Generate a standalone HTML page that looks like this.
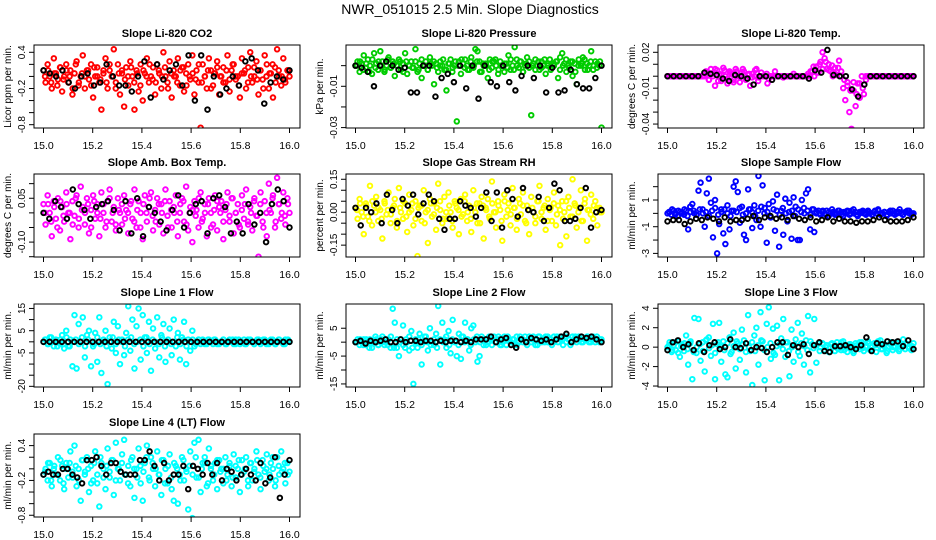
<!DOCTYPE html>
<html><head><meta charset="utf-8"><title>NWR_051015 2.5 Min. Slope Diagnostics</title>
<style>
html,body{margin:0;padding:0;background:#fff;}
svg{display:block;font-family:"Liberation Sans",Arial,sans-serif;}
</style></head>
<body>
<svg id="chart" width="936" height="540" viewBox="0 0 936 540" xmlns="http://www.w3.org/2000/svg">
<rect width="936" height="540" fill="#fff"/>
<text x="470" y="14" text-anchor="middle" font-size="14">NWR_051015  2.5 Min. Slope Diagnostics</text>
</svg>
<script>
// ---- data (x is evenly spaced from 15.0 to 16.0) ----
const xTicks = [15.0, 15.2, 15.4, 15.6, 15.8, 16.0];
const xTickLabels = ["15.0", "15.2", "15.4", "15.6", "15.8", "16.0"];

const co2Values = [0.1,-0.1,0.2,0.0,-0.2,0.3,0.05,-0.05,0.15,-0.25,0.0,0.2,-0.1,0.1,-0.3,0.05,0.25,-0.15,0.0,0.35,-0.2,0.1,-0.05,0.2,-0.35,0.0,0.15,-0.1,-0.55,0.05,0.3,-0.2,0.1,0.0,0.45,-0.1,0.2,-0.3,0.05,-0.5,0.15,-0.15,0.25,0.0,-0.55,0.1,-0.25,0.2,-0.4,0.05,0.3,-0.1,0.0,0.15,-0.3,0.2,0.05,-0.2,0.4,0.0,-0.1,0.25,-0.35,0.1,0.0,0.3,-0.15,0.15,-0.25,0.05,0.2,-0.05,0.35,-0.3,0.1,-0.1,-0.85,0.2,0.0,-0.2,0.3,0.1,-0.15,0.05,0.25,-0.3,0.0,0.15,-0.1,0.35,-0.25,0.1,0.2,-0.05,0.0,-0.35,0.3,0.05,-0.2,0.15,0.4,-0.1,0.0,0.25,-0.3,0.1,-0.05,0.35,0.2,-0.2,0.05,-0.35,0.15,0.45,0.0,-0.15,0.3,-0.1,0.1,0.0];
const co2Core = [0,0.1,-0.1,0.05,-0.15,0.15,-0.05,0.1,0,-0.2,0.2,-0.1,0.05,0,0.1,-0.15,0.15,0,-0.05,0.1,-0.1,0.2,0,-0.2,0.05,0.1,-0.05,0,0.15,-0.1,0.05,-0.15,0.1,0,0.2,-0.05,-0.1,0.1,0,0.15,-0.2,0.05,0,-0.1,0.1,0.15,-0.15,0,0.05,-0.05,0.2,-0.1,0,0.1,-0.2,0.05,0.15,0,-0.1,0.1,-0.05,0.2,0,-0.15,0.05,0.1,-0.1,0,0.15,-0.05,0.1,-0.2,0,0.05,0.2,-0.1,0.1,0,-0.05,0.1];
const co2Black = [0.1,0.05,0.0,0.1,-0.1,-0.2,0.0,0.05,-0.15,-0.1,0.2,0.0,-0.15,-0.15,-0.25,0.0,0.25,-0.35,0.2,-0.05,0.1,0.2,-0.15,0.35,-0.4,0.35,-0.55,0.0,-0.3,-0.2,0.0,-0.15,0.25,0.3,0.1,-0.45,-0.1,0.0,-0.05,0.1];

const pressValues = [0.0,0.002,-0.003,0.001,0.005,-0.001,0.003,0.0,-0.004,0.006,0.001,-0.002,0.007,0.002,-0.003,0.0,0.004,-0.001,0.002,-0.005,0.0,0.003,-0.002,0.001,0.006,-0.004,0.0,0.002,-0.001,0.008,-0.003,0.001,-0.006,0.0,0.002,-0.002,0.004,0.0,-0.009,0.001,-0.003,0.002,0.0,-0.002,-0.012,0.001,0.003,-0.001,0.0,-0.027,0.002,-0.004,0.001,0.003,0.0,-0.002,0.004,-0.001,0.008,0.007,0.002,-0.003,0.0,0.001,-0.006,0.003,-0.001,0.002,0.0,-0.004,0.002,0.0,-0.003,0.001,0.005,-0.002,0.0,0.009,0.003,-0.001,0.002,-0.003,0.0,0.004,-0.001,-0.024,0.001,0.003,0.0,-0.002,0.002,0.0,-0.004,0.001,0.003,-0.001,0.0,0.002,-0.006,0.004,0.006,0.001,-0.003,0.0,0.002,-0.005,0.001,-0.009,0.003,0.0,0.004,-0.002,0.001,0.0,0.007,-0.002,0.002,0.001,0.0,-0.03];
const pressCore = [0,0.002,-0.002,0.001,-0.003,0.003,-0.001,0.002,0,-0.002,0.003,-0.001,0.001,0,0.002,-0.003,0.002,0,-0.001,0.002,-0.002,0.003,0,-0.002,0.001,0.002,-0.001,0,0.003,-0.002,0.001,-0.003,0.002,0,0.003,-0.001,-0.002,0.002,0,0.002,-0.003,0.001,0,-0.002,0.002,0.003,-0.002,0,0.001,-0.001,0.003,-0.002,0,0.002,-0.003,0.001,0.002,0,-0.002,0.002,-0.001,0.003,0,-0.002,0.001,0.002,-0.002,0,0.003,-0.001,0.002,-0.003,0,0.001,0.003,-0.002,0.002,0,-0.001,0.002];
const pressBlack = [0.0,-0.001,-0.003,-0.01,0.0,0.002,0.0,-0.002,-0.001,-0.013,-0.013,0.0,0.0,-0.015,-0.006,-0.004,-0.008,0.0,-0.011,0.0,-0.016,0.0,-0.008,-0.01,0.0,-0.008,-0.012,-0.005,0.0,-0.006,0.0,-0.013,-0.001,-0.013,-0.012,-0.002,-0.009,-0.011,-0.011,-0.006,0.0];

const tempValues = [0,0,0,0,0,0,0,0,0,0,0,0,0,0,0,0,0,0,0,0.003,-0.003,0.006,0.0,-0.008,0.005,0.002,-0.004,0.007,0.0,-0.006,0.004,0.002,-0.003,0.006,0.0,-0.005,0.003,0.004,-0.002,0.001,-0.008,0.002,0.0,0.006,-0.001,0,0,0,0.002,-0.002,0,0,0.004,0,0,0,-0.001,0,0,0,0,0.002,0,0,0,0,0,0,0.002,0,0.004,0.0,0.008,0.003,0.012,0.02,0.015,0.006,0.01,0.004,0.0,0.007,0.001,0.013,0.0,-0.01,-0.02,-0.005,-0.03,-0.044,-0.012,-0.025,-0.006,-0.018,0.0,-0.015,-0.003,0.0,0,0,0,0,0,0,0,0,0,0,0,0,0,0,0,0,0,0,0,0,0,0];
const tempCore = [0,0,0,0,0,0,0,0,0,0,0,0,0.004,-0.003,0.002,0.006,-0.004,0.001,0.005,-0.002,0.003,-0.005,0.004,0.0,0.006,-0.003,0.002,-0.001,0.005,-0.004,0.003,0.0,-0.006,0,0,0,0,0,0,0,0,0,0,0,0,0,0.004,0.008,0.003,0.01,0.006,0.012,0.005,0.009,0.002,0.007,0.004,-0.003,-0.008,-0.012,-0.005,-0.015,-0.006,-0.01,0,0,0,0,0,0,0,0,0,0,0,0,0,0,0,0];
const tempBlack = [0,0,0,0,0,0,0.003,0.002,0.001,-0.002,-0.004,0.001,0.0,-0.002,-0.007,0,0,-0.003,0,0,0,0,0,-0.002,0.005,0.003,0.022,0.001,0,0,-0.011,-0.017,-0.007,0,0,0,0,0,0,0,0];

const ambValues = [0.03,-0.04,0.06,0.0,-0.08,0.04,-0.02,0.05,-0.06,0.02,-0.03,0.07,0.0,-0.09,0.04,-0.01,0.06,-0.05,0.09,0.02,-0.04,0.05,-0.07,0.01,0.06,-0.02,0.03,-0.08,0.07,0.0,-0.05,0.04,0.08,-0.03,0.02,-0.06,0.05,0.0,-0.04,0.06,0.01,-0.07,0.03,-0.02,0.08,-0.05,0.04,0.0,-0.09,0.06,-0.03,0.02,0.07,-0.06,0.01,0.05,-0.04,0.03,-0.07,0.08,-0.01,0.04,-0.05,0.02,0.06,-0.08,0.0,0.05,-0.03,0.09,-0.06,0.02,-0.1,0.04,0.01,-0.05,0.07,-0.02,0.03,-0.08,0.05,0.0,-0.04,0.06,-0.06,0.02,0.04,-0.09,0.01,0.07,-0.03,0.05,-0.07,0.0,0.03,-0.05,0.06,-0.02,0.08,-0.04,0.02,-0.06,0.05,-0.01,-0.15,0.07,-0.03,0.04,-0.08,0.1,0.0,0.06,-0.05,0.12,0.03,-0.02,0.07,-0.04,0.05,0.0];
const ambCore = [0,0.03,-0.03,0.02,-0.05,0.04,-0.01,0.03,0,-0.04,0.05,-0.02,0.01,0,0.03,-0.05,0.04,0,-0.02,0.03,-0.03,0.05,0,-0.04,0.01,0.03,-0.02,0,0.04,-0.03,0.01,-0.05,0.03,0,0.05,-0.01,-0.03,0.03,0,0.04,-0.05,0.01,0,-0.03,0.03,0.04,-0.04,0,0.01,-0.01,0.05,-0.03,0,0.03,-0.05,0.01,0.04,0,-0.03,0.03,-0.01,0.05,0,-0.04,0.01,0.03,-0.03,0,0.04,-0.01,0.03,-0.05,0,0.01,0.05,-0.03,0.03,0,-0.01,0.03];
const ambBlack = [0.0,-0.02,0.04,0.02,-0.02,0.08,0.03,0.01,-0.02,0.02,0.03,0.04,0.01,-0.06,0.04,-0.07,0.05,-0.08,0.02,0.0,-0.03,-0.06,0.01,0.06,-0.05,0.0,0.03,0.04,-0.07,0.05,0.06,0.02,-0.07,-0.03,-0.07,0.03,-0.04,0.0,-0.1,0.03,0.08,0.04,-0.05];

const rhValues = [0.02,-0.03,0.06,0.0,-0.1,0.04,-0.02,0.12,-0.06,0.03,0.07,-0.04,0.01,-0.12,0.05,-0.01,0.09,-0.05,0.02,0.06,-0.07,0.11,0.0,-0.03,0.04,-0.09,0.08,0.01,-0.06,0.05,-0.2,0.03,-0.04,0.1,0.0,-0.14,0.06,-0.02,0.04,-0.08,0.13,0.01,-0.05,0.07,-0.03,0.09,0.0,-0.07,0.05,0.02,-0.1,0.06,-0.01,0.08,-0.04,0.03,-0.09,0.1,0.0,-0.05,0.04,0.07,-0.12,0.02,0.06,-0.03,0.14,0.0,-0.07,0.05,0.01,-0.13,0.08,-0.02,0.04,-0.06,0.11,0.02,-0.08,0.06,-0.01,0.09,-0.04,0.03,-0.1,0.07,0.0,-0.05,0.05,0.12,-0.03,0.02,-0.08,0.06,0.01,-0.04,0.09,-0.06,0.03,-0.15,0.05,0.0,-0.11,0.07,-0.02,0.15,0.04,-0.07,0.02,0.1,-0.04,0.06,-0.13,0.01,0.08,-0.03,0.05,-0.06,0.02,0.0];
const rhCore = [0.01,0.04,-0.02,0.03,-0.04,0.05,0,0.02,-0.03,0.04,0.01,-0.01,0.03,-0.04,0.02,0.05,-0.02,0,0.04,-0.03,0.02,0.03,-0.05,0.01,0.04,-0.01,0.02,0.05,-0.03,0,0.03,-0.04,0.04,0.01,-0.02,0.05,0,-0.03,0.02,0.04,-0.05,0.03,0.01,-0.02,0.04,0,0.03,-0.04,0.05,0.01,-0.01,0.02,-0.03,0.04,0.03,-0.05,0.01,0.02,-0.02,0.05,0,0.03,-0.04,0.02,0.04,-0.01,0.01,-0.03,0.05,0.02,-0.02,0.03,0,-0.04,0.04,0.01,-0.01,0.03,0.02,0.0];
const rhBlack = [0.02,-0.06,0.02,0.0,0.04,-0.05,0.08,0.01,-0.05,0.06,0.03,0.08,-0.01,0.04,0.08,0.05,-0.03,-0.08,-0.03,-0.03,0.05,0.03,0.02,-0.02,0.02,0.09,-0.04,0.09,-0.07,0.1,0.06,-0.02,0.11,0.01,0.0,0.07,-0.04,0.02,0.13,0.1,-0.04,-0.04,-0.03,0.02,0.11,-0.07,0.0,0.01];

const sampleValues = [0,0.1,-0.1,0.2,0,-0.2,0.1,0,-0.1,0.2,-1.2,0.5,0.7,0,-0.1,1.7,2.3,0.3,-1.0,1.5,2.6,0.8,-1.8,1.0,-3.0,-0.8,0.3,-1.5,-2.3,0.6,-1.2,0.2,2.0,2.4,1.6,-0.7,0.5,-1.6,-2.0,1.8,0.3,-1.1,0.6,-0.5,2.8,-1.0,2.1,0.4,-2.2,0.7,-0.3,0.9,-1.3,1.4,-2.5,0.2,-1.6,1.1,-0.6,0.8,-1.9,1.2,0.5,-2.0,-2.0,1.0,0.4,1.5,1.8,-1.2,0.3,-1.4,0,0.2,-0.1,0.1,0,0.2,-0.2,0,0.1,-0.1,0,0.2,0.1,-0.2,0,0.1,-0.1,0.2,0,0.1,-0.2,0,0.1,0,-0.1,0.2,0,-0.1,0.1,0,0.2,-0.1,0,0.1,-0.2,0.1,0,0.2,-0.1,0,0.1,0,-0.1,0.1,0.2,0,-0.1,0];
const sampleCore = [0.1,0.3,-0.1,0.2,0,0.3,-0.2,0.1,0.2,-0.1,0.3,0,0.1,-0.2,0.2,0.4,-0.1,0.1,0.3,0,-0.2,0.2,0.1,0.4,-0.1,0,0.3,0.1,-0.2,0.2,0.5,0,0.1,-0.3,0.3,0.2,-0.1,0.4,0,0.1,0.2,-0.2,0.3,0.1,0,0.2,-0.1,0.3,0.1,0,0.2,-0.1,0.1,0.3,0,0.2,-0.1,0.1,0.2,0,0.3,-0.1,0.1,0.2,0,0.1,-0.1,0.2,0.3,0,0.1,-0.1,0.2,0,0.1,0.3,-0.1,0.1,0.2,0];
const sampleBlack = [-0.6,-0.5,-0.5,-0.8,-0.6,-0.4,-0.5,-0.3,-0.4,-0.6,-0.3,-0.6,-0.5,-0.5,-0.4,-0.2,-0.5,-0.3,-0.2,-0.4,-0.3,-0.5,-0.2,-0.4,-0.5,-0.3,-0.6,-0.5,-0.3,-0.6,-0.4,-0.6,-0.6,-0.7,-0.6,-0.6,-0.5,-0.3,-0.5,-0.6,-0.6,-0.6,-0.5,-0.3];

const line1Values = [0,1,-1,2,0,-2,1,0,-1,3,-3,5,-2,1,-11,12,-12,8,0,11,-7,3,5,-11,-2,4,-9,11,-14,0,5,-19,2,-3,9,-5,7,-10,1,-6,4,16,-4,10,-12,7,15,-8,12,2,-5,9,-13,6,-3,11,-7,3,8,-9,0,6,-6,10,-2,4,-8,2,9,-10,1,-4,5,-2,0,1,-1,1,0,-1,1,0,-1,1,0,-1,0,1,-1,0,1,0,-1,1,0,-1,0,1,-1,0,1,0,-1,0,1,-1,0,1,0,-1,1,0,-1,0,1,0,-1,1,0,0];
const line1Core = [1,-1,2,0,-2,1,-1,2,-2,0,1,-1,2,-2,1,0,-1,2,-1,1,-2,0,2,-1,1,0,-2,1,2,-1,0,1,-2,2,-1,1,0,-1,2,-2,1,-1,0,2,-1,1,-2,0,1,-1,1,0,-1,1,0,1,-1,0,1,-1,0,1,-1,1,0,-1,1,0,-1,1,0,1,-1,0,1,-1,1,0,-1,1];
const line1Black = [0,0,0,0,0,0,0,0,0,0,0,0,0,0,0,0,0,0,0,0,0,0,0,0,0,0,0,0,0,0,0,0,0,0,0,0,0,0,0,0,0];

const line2Values = [0,1,-1,0,1,-1,0,1,-2,0,1,-1,0,2,-1,0,1,-2,12,7,-2,-5,1,6,-2,0,-3,4,-15,1,-2,3,-8,0,2,-3,5,0,-1,3,13,-8,7,1,-2,4,-4,8,0,-5,3,-6,2,7,1,-3,5,6,0,-7,-5,2,-1,1,0,1,-1,2,0,1,-1,0,2,-1,1,0,1,-1,2,0,1,0,2,-1,1,0,2,1,-1,2,0,1,2,0,1,-1,2,1,0,2,1,2,0,1,-1,2,1,0,2,1,0,1,2,0,1,2,0,1,0,1];
const line2Core = [0,1,-1,1,-2,0,2,-1,1,0,-1,2,-2,1,0,-1,1,2,-2,0,1,-1,2,0,-1,1,-2,1,0,2,-1,1,0,-1,2,0,1,-1,1,2,0,1,-1,2,1,0,2,-1,1,2,0,1,-1,2,1,0,2,1,-1,2,1,0,2,1,0,2,1,-1,2,1,0,2,1,0,1,2,0,1,2,1];
const line2Black = [0,0.5,-0.5,0.5,0,0.5,1,0,0,1,0,0.5,0.5,0,0.5,0.5,0,0.5,0,0.5,0.5,0,0.5,0,1,1,1,2,0,1,1.5,-1,-2,1,0,1.5,1,0.5,1,0,1,2,3,0,1,2,1.5,2,1,0];

const line3Values = [0,0.5,-0.5,0.2,-0.3,0.6,-1.0,0.3,-0.4,1.2,-1.8,0.4,-3.3,3.0,-0.6,2.9,-1.4,0.5,-2.5,0.8,1.0,-0.9,2.4,-3.3,0.3,2.5,-1.5,0.6,-2.8,-3.1,1.0,-0.5,1.5,-2.2,0.4,-1.3,1.8,0.7,-2.6,3.3,-0.4,-3.9,1.2,2.0,-1.8,3.6,0.6,-3.4,2.4,4.1,-1.2,1.9,-0.8,2.2,-3.4,0.9,2.9,-1.0,0.5,-3.0,1.8,-1.5,0.8,2.5,-0.9,1.4,-1.8,0.7,3.2,-2.6,0.3,2.9,-1.6,0.4,0,0.4,-0.3,0.2,-0.5,0.3,0,-0.4,0.5,0.1,-0.3,0.6,0,-0.5,0.3,0.2,-0.6,0.4,0,-0.2,0.5,-0.4,0.1,0.6,-0.3,0,0.4,-0.5,0.2,0.7,-0.2,0.3,-0.6,0.1,0.5,-0.3,0,0.4,-0.4,0.2,0.8,-0.2,0.3,0,-0.3,0.4];
const line3Core = [0.2,-0.3,0.5,-0.6,0.1,0.4,-0.2,0.6,-0.5,0,0.3,-0.4,0.7,-0.1,0.2,-0.6,0.5,0,-0.3,0.4,-0.7,0.1,0.6,-0.2,0.3,-0.5,0,0.5,-0.4,0.2,0.7,-0.3,0,0.4,-0.6,0.1,0.3,-0.2,0.5,-0.4,0,0.2,-0.5,0.4,0.1,-0.3,0.6,-0.1,0.2,-0.4,0.3,0,-0.5,0.4,0.2,-0.2,0.5,-0.3,0,0.3,-0.4,0.2,0.5,-0.1,0,0.4,-0.3,0.2,0.6,-0.2,0.1,-0.4,0.3,0,0.5,-0.2,0.2,0.4,-0.1,0.1];
const line3Black = [-0.3,0.5,0.7,0,0.3,-0.3,0.4,-0.5,0.2,0.5,-0.2,0,0.8,0,-0.1,0.4,-0.3,0,-0.1,-0.5,0,0.5,0.5,-0.8,0.2,0,0.3,-0.7,0.2,0.5,-0.4,-0.5,0.1,0.1,0.2,0,-0.2,0.2,1.0,-0.4,0.4,0.3,0.6,0.5,0.6,0.1,0.7,-0.2];

const line4Values = [-0.1,0.0,-0.2,0.1,-0.3,0.0,-0.1,0.2,-0.2,0.05,-0.35,0.1,-0.15,0.3,-0.05,0.4,-0.3,0.0,-0.55,0.15,-0.1,0.2,-0.4,0.05,-0.2,0.3,-0.25,-0.65,0.1,0.0,-0.35,0.35,-0.15,0.15,-0.45,0.45,0.0,-0.2,0.25,0.5,-0.1,0.05,-0.3,0.2,-0.5,0.0,0.35,-0.25,-0.55,0.1,0.4,-0.15,0.2,0.0,-0.3,0.3,-0.1,-0.45,0.15,0.0,-0.25,0.25,-0.35,-0.55,0.05,-0.6,-0.1,0.2,-0.2,0.0,-0.7,0.3,-0.85,0.45,-0.15,0.5,-0.4,0.1,0.2,-0.3,0.35,0.0,-0.2,0.1,-0.35,0.15,0.0,-0.25,0.2,-0.1,0.05,-0.3,0.25,-0.15,0.0,-0.4,0.15,-0.05,0.2,-0.3,0.1,-0.2,0.0,0.3,-0.1,-0.35,0.15,-0.05,0.25,-0.2,0.1,0.0,-0.3,0.2,-0.1,0.3,0.0,-0.25,0.1,-0.05];
const line4Core = [-0.05,0.1,-0.2,0.05,-0.1,0.15,-0.25,0,0.1,-0.15,0.05,-0.2,0.15,-0.05,0,-0.25,0.1,-0.1,0.2,-0.15,0.05,-0.05,0.15,-0.2,0,0.1,-0.1,-0.25,0.15,0,-0.15,0.05,-0.05,0.2,-0.2,0.1,0,-0.1,0.15,-0.25,0.05,-0.15,0.1,0,-0.2,0.15,-0.05,0.05,-0.1,0.2,-0.15,0,0.1,-0.25,0.05,-0.1,0.15,-0.05,0,-0.2,0.1,-0.15,0.05,0.15,-0.1,0,-0.2,0.1,-0.05,0.15,-0.15,0.05,0,-0.1,0.2,-0.2,0.05,-0.05,0.1,-0.1];
const line4Black = [-0.1,-0.05,-0.1,-0.1,0.0,0.0,-0.1,-0.15,-0.25,0.15,0.15,0.2,0.05,-0.1,0.1,0.1,-0.05,-0.1,-0.1,-0.1,0.15,0.15,0.3,0.05,-0.2,0.1,-0.2,-0.1,-0.1,0.05,-0.35,0.05,0.0,-0.1,0.1,-0.1,0.1,-0.2,0.0,-0.05,-0.2,-0.1,0.0,-0.1,-0.2,0.1,-0.25,-0.15,0.2,-0.5,-0.1,0.15];

// y tick values and labels per panel
const co2Ticks = [0.4,0.2,0,-0.2,-0.4,-0.6,-0.8];     const co2Labels = ["0.4","","","-0.2","","","-0.8"];
const pressTicks = [0,-0.01,-0.02,-0.03];             const pressLabels = ["","-0.01","","-0.03"];
const tempTicks = [0.02,0.01,0,-0.01,-0.02,-0.03,-0.04]; const tempLabels = ["0.02","","","-0.01","","","-0.04"];
const ambTicks = [0.1,0.05,0,-0.05,-0.1,-0.15];       const ambLabels = ["","0.05","","","-0.10",""];
const rhTicks = [0.15,0.1,0.05,0,-0.05,-0.1,-0.15];   const rhLabels = ["0.15","","","0.00","","","-0.15"];
const sampleTicks = [2,1,0,-1,-2,-3];                 const sampleLabels = ["","1","","-1","","-3"];
const line1Ticks = [15,10,5,0,-5,-10,-15,-20];        const line1Labels = ["15","","5","","-5","","","-20"];
const line2Ticks = [5,0,-5,-10,-15];                  const line2Labels = ["5","","-5","","-15"];
const line3Ticks = [4,2,0,-2,-4];                     const line3Labels = ["4","2","0","-2","-4"];
const line4Ticks = [0.4,0.2,0,-0.2,-0.4,-0.6,-0.8];   const line4Labels = ["0.4","","","-0.2","","","-0.8"];

// ---- layout ----
const colLeft = [34, 346, 658];
const rowTop = [45, 174, 304, 434];
const PW = 266, PH = 83;
const NS = "http://www.w3.org/2000/svg";
const svg = document.getElementById('chart');

const panels = [
  {name:'co2', title:'Slope Li-820 CO2', ylab:'Licor ppm per min.', c:0, r:0, ymin:-0.855, ymax:0.521, col:'#ff0000', vals:co2Values, core:co2Core, blk:co2Black, ticks:co2Ticks, labels:co2Labels},
  {name:'pressure', title:'Slope Li-820 Pressure', ylab:'kPa per min.', c:1, r:0, ymin:-0.0302, ymax:0.0100, col:'#00cc00', vals:pressValues, core:pressCore, blk:pressBlack, ticks:pressTicks, labels:pressLabels},
  {name:'li820-temp', title:'Slope Li-820 Temp.', ylab:'degrees C per min.', c:2, r:0, ymin:-0.0433, ymax:0.0261, col:'#ff00ff', vals:tempValues, core:tempCore, blk:tempBlack, ticks:tempTicks, labels:tempLabels},
  {name:'amb-box-temp', title:'Slope Amb. Box Temp.', ylab:'degrees C per min.', c:0, r:1, ymin:-0.151, ymax:0.133, col:'#ff00ff', vals:ambValues, core:ambCore, blk:ambBlack, ticks:ambTicks, labels:ambLabels},
  {name:'gas-stream-rh', title:'Slope Gas Stream RH', ylab:'percent per min.', c:1, r:1, ymin:-0.204, ymax:0.174, col:'#ffff00', vals:rhValues, core:rhCore, blk:rhBlack, ticks:rhTicks, labels:rhLabels},
  {name:'sample-flow', title:'Slope Sample Flow', ylab:'ml/min per min.', c:2, r:1, ymin:-3.27, ymax:2.95, col:'#0000ff', vals:sampleValues, core:sampleCore, blk:sampleBlack, ticks:sampleTicks, labels:sampleLabels},
  {name:'line1-flow', title:'Slope Line 1 Flow', ylab:'ml/min per min.', c:0, r:2, ymin:-20.3, ymax:17.0, col:'#00ffff', vals:line1Values, core:line1Core, blk:line1Black, ticks:line1Ticks, labels:line1Labels},
  {name:'line2-flow', title:'Slope Line 2 Flow', ylab:'ml/min per min.', c:1, r:2, ymin:-16.1, ymax:13.7, col:'#00ffff', vals:line2Values, core:line2Core, blk:line2Black, ticks:line2Ticks, labels:line2Labels},
  {name:'line3-flow', title:'Slope Line 3 Flow', ylab:'ml/min per min.', c:2, r:2, ymin:-4.1, ymax:4.44, col:'#00ffff', vals:line3Values, core:line3Core, blk:line3Black, ticks:line3Ticks, labels:line3Labels},
  {name:'line4-flow', title:'Slope Line 4 (LT) Flow', ylab:'ml/min per min.', c:0, r:3, ymin:-0.83, ymax:0.60, col:'#00ffff', vals:line4Values, core:line4Core, blk:line4Black, ticks:line4Ticks, labels:line4Labels}
];

function mk(tag, attrs, parent){
  const e = document.createElementNS(NS, tag);
  for (const k in attrs) e.setAttribute(k, attrs[k]);
  parent.appendChild(e);
  return e;
}

panels.forEach(p => {
  const L = colLeft[p.c], T = rowTop[p.r];
  const xScale = v => L + 9.5 + (v - 15) * 246;
  const yScale = v => T + (p.ymax - v) / (p.ymax - p.ymin) * PH;
  const g = mk('g', {}, svg);
  
  

  const t = mk('text', {x: L + PW/2, y: T - 8, 'text-anchor':'middle', 'font-size':'11', 'font-weight':'bold'}, g);
  t.textContent = p.title;
  
  

  const clipId = 'clip-' + p.name;
  const cp = mk('clipPath', {id: clipId}, g);
  mk('rect', {x:L, y:T, width:PW, height:PH}, cp);
  const pts = mk('g', {'clip-path':'url(#' + clipId + ')', fill:'none', 'stroke-width':'1.9'}, g);
  
  
  const n = p.vals.length;
  p.vals.forEach((v, i) => {
    const c = mk('circle', {cx: xScale(15 + i/(n-1)), cy: yScale(v), r: 2.3, stroke: p.col}, pts);
    
    
  });
  const nc = p.core.length;
  p.core.forEach((v, i) => {
    const c = mk('circle', {cx: xScale(15 + (i + 0.5)/nc), cy: yScale(v), r: 2.3, stroke: p.col}, pts);
    
    
  });
  const nb = p.blk.length;
  p.blk.forEach((v, i) => {
    const c = mk('circle', {cx: xScale(15 + i/(nb-1)), cy: yScale(v), r: 2.3, stroke: '#000'}, pts);
    
    
  });

  const f = mk('rect', {x:L, y:T, width:PW, height:PH, fill:'none', stroke:'#000', 'stroke-width':'1'}, g);
  
  

  const xa = mk('g', {}, g);
  
  
  xTicks.forEach((v, i) => {
    const x = xScale(v);
    mk('line', {x1:x, x2:x, y1:T+PH, y2:T+PH+5, stroke:'#000'}, xa);
    const tl = mk('text', {x:x, y:T+PH+21, 'text-anchor':'middle', 'font-size':'10.5'}, xa);
    tl.textContent = xTickLabels[i];
  });

  const ya = mk('g', {}, g);
  
  
  p.ticks.forEach((v, i) => {
    const y = yScale(v);
    mk('line', {x1:L-5, x2:L, y1:y, y2:y, stroke:'#000'}, ya);
    if (p.labels[i]) {
      const tl = mk('text', {x:0, y:0, 'text-anchor':'middle', 'font-size':'10', transform:'translate(' + (L-9) + ',' + y + ') rotate(-90)'}, ya);
      tl.textContent = p.labels[i];
    }
  });
  const yt = mk('text', {x:0, y:0, 'text-anchor':'middle', 'font-size':'10', transform:'translate(' + (L-23) + ',' + (T+PH/2) + ') rotate(-90)'}, g);
  yt.textContent = p.ylab;
  
  
});
</script>
</body></html>
